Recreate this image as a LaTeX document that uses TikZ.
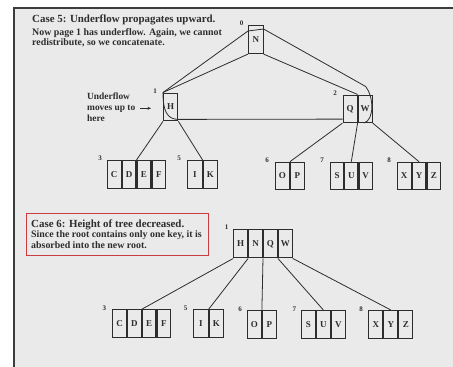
\documentclass[tikz,border=0pt]{standalone}
\usepackage{fontspec}
\setmainfont{Liberation Serif}
\usetikzlibrary{calc,arrows.meta}
\definecolor{page}{RGB}{234,234,234}
\definecolor{ink}{RGB}{45,45,45}
\definecolor{redbox}{RGB}{205,60,60}
\definecolor{edge}{RGB}{60,60,60}
\tikzset{
  cell/.style={draw=ink, line width=1.1pt, minimum width=13.8pt, minimum height=27.5pt,
    inner sep=0pt, font=\bfseries\fontsize{9}{9}\selectfont, text=ink, anchor=north west},
  num/.style={font=\bfseries\fontsize{7}{7}\selectfont, text=ink, inner sep=0pt},
  link/.style={draw=ink, line width=0.8pt},
  titletxt/.style={anchor=base west, inner sep=0pt, text=ink, font=\bfseries\fontsize{10.9}{12}\selectfont},
  bodytxt/.style={anchor=base west, inner sep=0pt, text=ink, font=\bfseries\fontsize{9.9}{11}\selectfont},
  sidetxt/.style={anchor=base west, inner sep=0pt, text=ink, font=\bfseries\fontsize{9.4}{11}\selectfont},
}
\begin{document}
\begin{tikzpicture}[x=1pt,y=-1pt]
\useasboundingbox (0,0) rectangle (453,367);
% page
\fill[page] (14,8) rectangle (453,367);
\draw[edge, line width=1.8pt] (14,367) -- (14,8) -- (453,8);

% ---------- Case 5 text ----------
\node[titletxt] (t5) at (32,22.7) {Case 5: Underflow propagates upward.};
\node[bodytxt] (t5a) at (32,35) {Now page 1 has underflow. Again, we cannot};
\node[bodytxt] (t5b) at (32,45.7) {redistribute, so we concatenate.};

\node[sidetxt] (u1) at (87,99.3) {Underflow};
\node[sidetxt] (u2) at (87,110.7) {moves up to};
\node[sidetxt] (u3) at (87,121.7) {here};
\coordinate (ar1) at (140,108.3);
\coordinate (ar2) at (151,108.3);
\draw[ink, line width=0.8pt, -{Stealth[length=3.5pt,width=3pt]}] (ar1) -- (ar2);

% ---------- Case 5 tree ----------
\node[cell, minimum width=14.5pt, minimum height=28pt] (N) at (248,25) {N};
\node[num] (l0) at (241.5,23) {0};

\node[cell, minimum width=14.3pt, minimum height=27.8pt] (H) at (163,92.5) {H};
\node[num] (l1) at (155,91) {1};

\node[cell, minimum width=14pt] (Q) at (342.5,94.5) {Q};
\node[cell, minimum width=14pt] (W) at (Q.north east) {W};
\node[num] (l2) at (335,93) {2};

% leaves
\node[cell] (C) at (106.7,160) {C};
\node[cell] (D) at (C.north east) {D};
\node[cell] (E) at (D.north east) {E};
\node[cell] (F) at (E.north east) {F};
\node[num] (l3) at (100,158.5) {3};

\node[cell, minimum width=14.2pt] (I) at (187.3,160) {I};
\node[cell, minimum width=14.2pt] (K) at (I.north east) {K};
\node[num] (l5) at (179,158.5) {5};

\node[cell] (O) at (275,161.7) {O};
\node[cell] (P) at (O.north east) {P};
\node[num] (l6) at (267,160) {6};

\node[cell, minimum width=13.1pt] (S) at (330,161.7) {S};
\node[cell, minimum width=13.1pt] (U) at (S.north east) {U};
\node[cell, minimum width=13.1pt] (V) at (U.north east) {V};
\node[num] (l7) at (322,160) {7};

\node[cell] (X) at (396.7,161.7) {X};
\node[cell] (Y) at (X.north east) {Y};
\node[cell] (Z) at (Y.north east) {Z};
\node[num] (l8) at (389,160) {8};

% pointers
\draw[link] (N.south west) -- (H.north west);
\draw[link] (N.south east) -- (Q.north east);
\draw[link] (H.south west) -- (D.north east);
\draw[link] (H.south east) -- (I.north east);
\draw[link] (Q.south west) -- (O.north east);
\draw[link] (Q.south east) -- (U.north);
\draw[link] (W.south east) -- (Y.north);

% concatenation outline
\draw[link] ($(Q.south west)+(0,-4)$) -- ($(H.south east)+(0,-2)$)
   .. controls ($(H.south west)+(4,-2)$) and ($(H.west)+(0,4)$) .. (H.north west)
   -- ($(N.north west)+(0,6)$) -- ($(N.north east)+(0,4)$)
   -- ($(W.north east)+(-7,-8)$)
   .. controls ($(W.north east)+(1,2)$) and ($(W.south east)+(2,-3)$) .. ($(W.south east)+(-9,0)$);

% ---------- Case 6 text ----------
\draw[redbox, line width=0.9pt] (26,213.3) rectangle (208.3,255.7);
\node[titletxt] (t6) at (31,227.3) {Case 6: Height of tree decreased.};
\node[bodytxt] (t6a) at (31,237.7) {Since the root contains only one key, it is};
\node[bodytxt] (t6b) at (31,248.7) {absorbed into the new root.};

% ---------- Case 6 tree ----------
\node[cell, minimum width=13.75pt, minimum height=28pt] (RH) at (233.3,229.3) {H};
\node[cell, minimum width=13.75pt, minimum height=28pt] (RN) at (RH.north east) {N};
\node[cell, minimum width=13.75pt, minimum height=28pt] (RQ) at (RN.north east) {Q};
\node[cell, minimum width=13.75pt, minimum height=28pt] (RW) at (RQ.north east) {W};
\node[num] (m1) at (226.7,227.5) {1};

\node[cell, minimum width=13.6pt] (C2) at (112.3,309.3) {C};
\node[cell, minimum width=13.6pt] (D2) at (C2.north east) {D};
\node[cell, minimum width=13.6pt] (E2) at (D2.north east) {E};
\node[cell, minimum width=13.6pt] (F2) at (E2.north east) {F};
\node[num] (m3) at (104.3,308) {3};

\node[cell, minimum width=14.2pt] (I2) at (193.3,309.3) {I};
\node[cell, minimum width=14.2pt] (K2) at (I2.north east) {K};
\node[num] (m5) at (185.7,308) {5};

\node[cell, minimum width=14pt] (O2) at (246.8,310) {O};
\node[cell, minimum width=14pt] (P2) at (O2.north east) {P};
\node[num] (m6) at (240,309) {6};

\node[cell] (S2) at (301,310) {S};
\node[cell] (U2) at (S2.north east) {U};
\node[cell] (V2) at (U2.north east) {V};
\node[num] (m7) at (294.3,309) {7};

\node[cell, minimum width=13.9pt] (X2) at (368.3,310) {X};
\node[cell, minimum width=13.9pt] (Y2) at (X2.north east) {Y};
\node[cell, minimum width=13.9pt] (Z2) at (Y2.north east) {Z};
\node[num] (m8) at (361,309) {8};

\draw[link] (RH.south west) -- (D2.north east);
\draw[link] (RH.south east) -- (I2.north east);
\draw[link] (RN.south east) -- (O2.north east);
\draw[link] (RQ.south east) -- (U2.north);
\draw[link] (RW.south east) -- (Y2.north);
\end{tikzpicture}
\end{document}
